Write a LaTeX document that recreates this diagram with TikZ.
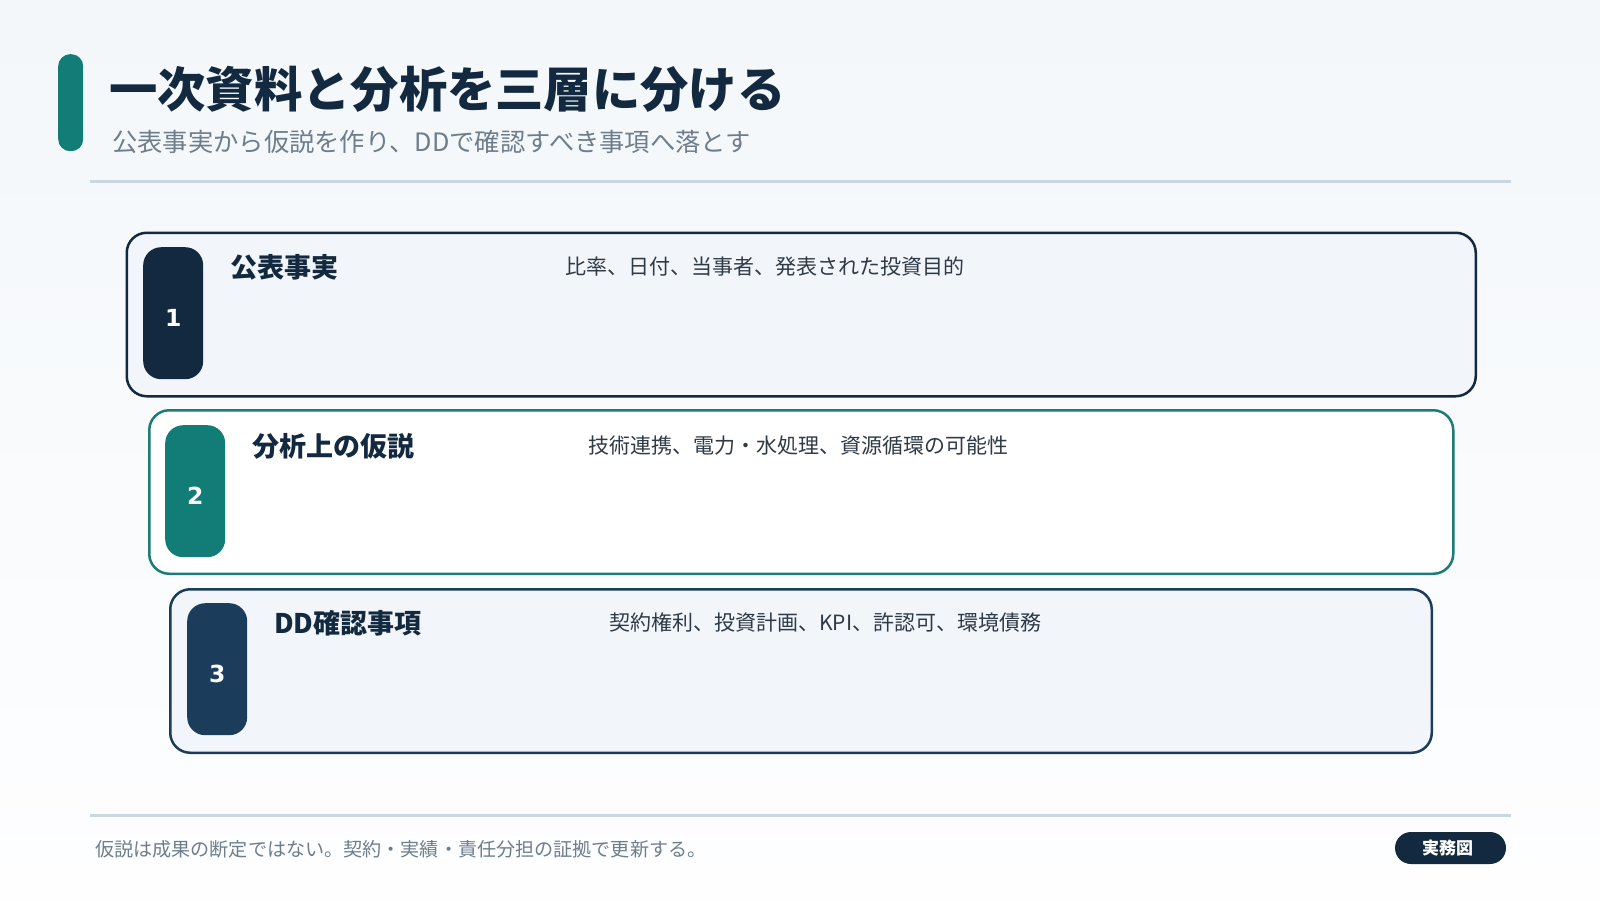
\documentclass[tikz,border=0pt]{standalone}
\usepackage{fontspec}
\setmainfont{Noto Sans CJK JP}
\newfontfamily\numfont{DejaVu Sans}
\usetikzlibrary{shapes.misc}
\definecolor{navy}{HTML}{13293F}
\definecolor{navyb}{HTML}{1B3D5B}
\definecolor{teal}{HTML}{127C77}
\definecolor{tealb}{HTML}{1C7B78}
\definecolor{boxfill}{HTML}{F2F6FA}
\definecolor{rulec}{HTML}{CAD6E0}
\definecolor{subc}{HTML}{6E7D8C}
\definecolor{descc}{HTML}{2E3A46}
\definecolor{bgtop}{HTML}{F3F7FA}
\definecolor{bgbot}{HTML}{FEFEFF}
\tikzset{
  layerbox/.style={draw, line width=2.5pt, rounded corners=20pt, inner sep=0pt, anchor=north west},
  numbadge/.style={rounded corners=18pt, inner sep=0pt, anchor=north west, minimum width=60pt, minimum height=132pt},
  numtext/.style={text=white, font=\numfont\bfseries\fontsize{23.5}{26}\selectfont},
  headtext/.style={anchor=west, inner sep=0pt, text=navy, font=\bfseries\fontsize{27}{30}\selectfont},
  desctext/.style={anchor=west, inner sep=0pt, text=descc, font=\fontsize{21}{24}\selectfont},
  hrule/.style={draw=rulec, line width=3pt},
}
\begin{document}
\begin{tikzpicture}[x=1pt,y=-1pt]
\shade[top color=bgtop, bottom color=bgbot] (0,0) rectangle (1600,900);
\useasboundingbox (0,0) rectangle (1600,900);
% title accent bar
\node[fill=teal, rounded corners=12pt, minimum width=25pt, minimum height=97pt, inner sep=0pt, anchor=north west] (bar) at (58,54) {};
\node[anchor=west, inner sep=0pt, text=navy, font=\bfseries\fontsize{48.3}{52}\selectfont] (title) at (109,89) {一次資料と分析を三層に分ける};
\node[anchor=west, inner sep=0pt, text=subc, font=\fontsize{25.3}{28}\selectfont] (subtitle) at (112,142) {公表事実から仮説を作り、DDで確認すべき事項へ落とす};
\coordinate (r1a) at (90,181);
\coordinate (r1b) at (1511,181);
\draw[hrule] (r1a) -- (r1b);
% layer 1
\node[layerbox, draw=navy, fill=boxfill, minimum width=1349pt, minimum height=163.5pt] (box1) at (125.5,231.5) {};
\node[numbadge, fill=navy] (bd1) at (143,247) {};
\node[numtext] (n1) at ([yshift=-5pt]bd1.center) {1};
\node[headtext] (h1) at (230,267) {公表事実};
\node[desctext] (d1) at (565,267) {比率、日付、当事者、発表された投資目的};
% layer 2
\node[layerbox, draw=tealb, fill=white, minimum width=1304pt, minimum height=163.5pt] (box2) at (148,409) {};
\node[numbadge, fill=teal] (bd2) at (165,425) {};
\node[numtext] (n2) at ([yshift=-5pt]bd2.center) {2};
\node[headtext] (h2) at (252,446) {分析上の仮説};
\node[desctext] (d2) at (588,446) {技術連携、電力・水処理、資源循環の可能性};
% layer 3
\node[layerbox, draw=navyb, fill=boxfill, minimum width=1261.5pt, minimum height=163.5pt] (box3) at (169,588) {};
\node[numbadge, fill=navyb] (bd3) at (187,603) {};
\node[numtext] (n3) at ([yshift=-5pt]bd3.center) {3};
\node[headtext] (h3) at (274,623) {DD確認事項};
\node[desctext] (d3) at (609,623) {契約権利、投資計画、KPI、許認可、環境債務};
% footer
\coordinate (r2a) at (90,815);
\coordinate (r2b) at (1511,815);
\draw[hrule] (r2a) -- (r2b);
\node[anchor=west, inner sep=0pt, text=subc, font=\fontsize{19.1}{22}\selectfont] (foot) at (95,849) {仮説は成果の断定ではない。契約・実績・責任分担の証拠で更新する。};
\node[fill=navy, rounded rectangle, minimum width=111pt, minimum height=32pt, inner sep=0pt] (tag) at (1450.5,848) {};
\node[text=white, inner sep=0pt, font=\bfseries\fontsize{17}{19}\selectfont] (tagtext) at ([xshift=-3pt]tag.center) {実務図};
\end{tikzpicture}
\end{document}
